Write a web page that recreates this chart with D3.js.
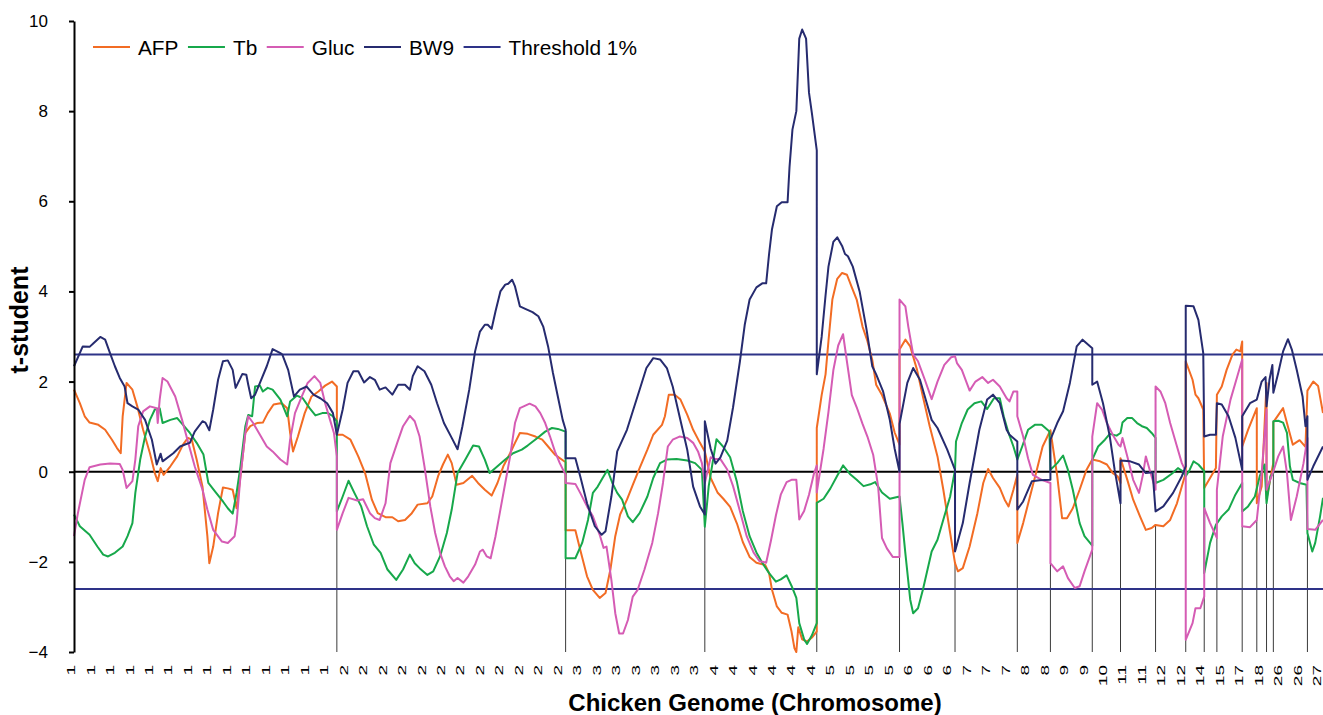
<!DOCTYPE html>
<html><head><meta charset="utf-8">
<script src="https://cdn.jsdelivr.net/npm/d3@7"></script>
<style>body{margin:0;background:#fff} svg{display:block;font-family:"Liberation Sans",Arial,sans-serif}</style>
</head><body><svg id="chart" width="1323" height="715"></svg>
<script>
// Chromosome label shown every 20 marker positions
const tickLabels = ["1","1","1","1","1","1","1","1","1","1","1","1","1","1",
  "2","2","2","2","2","2","2","2","2","2","2","2",
  "3","3","3","3","3","3","3",
  "4","4","4","4","4","4",
  "5","5","5","5",
  "6","6","6",
  "7","7","7",
  "8","8",
  "9","9",
  "10","11","11","12","12","14","15","17","18","26","26","27"];
const labelStep = 20;

// Chromosome boundaries (marker positions)
const boundaries = [270,505,648,763,848,905,969,1003,1046,1075,1111,1142,1161,1174,1200,1215,1225,1232,1267];

const thresholds = [2.6, -2.6];

// [marker position, t-student]
const afp = [[0,1.82],[6,1.52],[11,1.23],[16,1.09],[25,1.04],[32,0.93],[39,0.71],[44,0.53],[48,0.41],[50,1.23],[54,1.97],[60,1.82],[65,1.45],[71,0.93],[78,0.41],[83,-0.03],[86,-0.21],[89,0.08],[92,-0.07],[99,0.12],[106,0.34],[112,0.60],[117,0.75],[121,0.71],[126,0.27],[132,-0.33],[137,-1.43],[139,-2.03],[143,-1.66],[148,-0.92],[153,-0.35],[158,-0.37],[163,-0.40],[167,-0.81],[171,-0.10],[176,0.86],[181,1.01],[188,1.08],[194,1.09],[199,1.30],[205,1.49],[212,1.52],[214,1.51],[219,1.41],[222,0.86],[225,0.45],[230,0.78],[237,1.30],[244,1.67],[251,1.78],[258,1.91],[265,2.00],[270,1.89],
[270,0.82],[276,0.82],[284,0.71],[292,0.34],[299,-0.03],[306,-0.62],[312,-0.92],[320,-1.01],[327,-1.01],[333,-1.10],[340,-1.07],[347,-0.92],[353,-0.73],[363,-0.70],[368,-0.55],[374,-0.10],[379,0.16],[384,0.38],[388,0.19],[393,-0.29],[400,-0.25],[409,-0.09],[415,-0.25],[422,-0.40],[429,-0.53],[435,-0.25],[441,0.12],[448,0.41],[453,0.64],[458,0.86],[466,0.84],[474,0.78],[481,0.71],[487,0.56],[494,0.38],[501,0.27],[505,0.21],
[505,-1.30],[515,-1.30],[520,-1.73],[527,-2.32],[533,-2.62],[540,-2.80],[546,-2.69],[551,-2.17],[556,-1.43],[561,-0.95],[568,-0.62],[574,-0.29],[581,0.08],[589,0.49],[595,0.82],[604,1.04],[607,1.23],[611,1.71],[617,1.71],[623,1.60],[630,1.26],[636,0.93],[643,0.64],[648,0.45],
[654,-0.14],[661,-0.46],[667,-0.60],[674,-0.78],[681,-1.15],[687,-1.56],[694,-1.89],[701,-2.02],[710,-2.07],[714,-2.25],[717,-2.62],[722,-2.99],[727,-3.13],[733,-3.17],[737,-3.54],[740,-3.91],[742,-4.00],[744,-3.45],[748,-3.72],[753,-3.77],[758,-3.68],[763,-3.54],
[763,0.97],[768,1.70],[772,2.16],[775,2.90],[779,3.82],[784,4.28],[789,4.41],[794,4.37],[799,4.09],[804,3.82],[810,3.22],[815,2.90],[820,2.48],[824,1.93],[830,1.70],[838,1.29],[843,0.87],[848,0.60],
[848,2.71],[854,2.93],[859,2.78],[866,2.26],[872,1.67],[879,1.01],[887,0.34],[893,-0.40],[900,-1.36],[905,-2.03],[908,-2.21],[913,-2.14],[920,-1.66],[928,-0.92],[934,-0.25],[939,0.06],[944,-0.14],[951,-0.36],[956,-0.62],[960,-0.77],[965,-0.40],[969,-0.07],
[969,-1.58],[975,-1.14],[982,-0.55],[989,0.04],[995,0.56],[1003,0.92],[1010,-0.10],[1015,-1.03],[1020,-1.03],[1026,-0.81],[1033,-0.40],[1040,0.04],[1046,0.27],[1054,0.23],[1061,0.16],[1067,-0.03],[1072,-0.10],[1075,-0.25],
[1075,0.30],[1082,-0.18],[1088,-0.62],[1095,-0.99],[1101,-1.29],[1107,-1.25],[1111,-1.18],[1119,-1.21],[1126,-1.07],[1133,-0.70],[1139,-0.25],[1142,-0.03],
[1142,2.45],[1149,2.04],[1152,1.71],[1155,1.63],[1160,1.38],[1161,-0.36],[1167,-0.14],[1173,0.08],[1174,1.71],[1179,1.89],[1184,2.26],[1190,2.60],[1194,2.71],[1198,2.67],[1200,2.89],
[1200,0.56],[1206,0.93],[1215,1.41],[1215,-0.70],[1220,-0.33],[1225,1.97],[1225,-0.60],[1232,0.20],[1232,1.10],[1242,1.41],[1247,1.00],[1252,0.60],[1259,0.70],[1265,0.55],[1267,1.80],[1273,2.00],[1278,1.90],[1283,1.30]];

const tb = [[0,-0.95],[6,-1.21],[16,-1.40],[24,-1.66],[30,-1.84],[35,-1.88],[42,-1.80],[50,-1.66],[55,-1.43],[60,-1.14],[63,-0.47],[68,0.27],[73,0.78],[78,1.15],[83,1.38],[88,1.41],[91,1.08],[99,1.15],[106,1.19],[112,1.04],[119,0.86],[126,0.64],[133,0.38],[138,-0.25],[145,-0.44],[153,-0.66],[158,-0.81],[163,-0.93],[167,-0.47],[171,0.12],[176,1.01],[179,1.26],[183,1.23],[186,1.89],[191,1.91],[194,1.78],[199,1.86],[204,1.82],[212,1.60],[219,1.23],[222,1.56],[229,1.69],[235,1.63],[242,1.41],[248,1.25],[255,1.30],[261,1.30],[266,1.23],[270,1.12],
[270,-0.88],[276,-0.55],[282,-0.20],[288,-0.47],[295,-0.77],[301,-1.21],[308,-1.62],[315,-1.80],[322,-2.17],[331,-2.40],[338,-2.17],[345,-1.84],[350,-2.03],[355,-2.14],[363,-2.29],[369,-2.21],[376,-1.88],[383,-1.36],[388,-0.84],[394,-0.03],[402,0.27],[410,0.58],[416,0.56],[422,0.27],[427,-0.03],[435,0.12],[443,0.27],[451,0.41],[460,0.49],[466,0.58],[476,0.75],[484,0.89],[491,0.97],[497,0.95],[505,0.89],
[505,-1.92],[515,-1.92],[522,-1.58],[528,-1.07],[533,-0.47],[538,-0.33],[543,-0.14],[548,0.04],[553,-0.25],[558,-0.47],[563,-0.62],[569,-0.99],[574,-1.12],[581,-0.92],[589,-0.55],[595,-0.14],[602,0.19],[609,0.27],[619,0.28],[630,0.25],[638,0.19],[645,0.04],
[648,-1.22],[652,-0.32],[660,0.72],[667,0.55],[674,0.32],[681,-0.23],[687,-0.87],[694,-1.43],[701,-1.79],[707,-2.02],[714,-2.25],[721,-2.44],[726,-2.39],[732,-2.30],[737,-2.53],[742,-2.80],[745,-3.36],[750,-3.72],[753,-3.82],[758,-3.63],[763,-3.36],
[763,-0.69],[770,-0.60],[777,-0.37],[784,-0.09],[790,0.14],[797,-0.05],[804,-0.18],[811,-0.32],[818,-0.28],[823,-0.23],[830,-0.46],[838,-0.60],[848,-0.55],
[851,-1.15],[854,-1.81],[859,-2.84],[862,-3.14],[867,-3.03],[872,-2.62],[881,-1.77],[887,-1.51],[894,-0.99],[900,-0.55],[905,0.04],
[906,0.67],[912,1.08],[918,1.38],[925,1.52],[932,1.56],[938,1.39],[945,1.63],[951,1.63],[955,1.23],[960,0.86],[965,0.56],[969,0.27],[974,0.56],[980,0.93],[987,1.04],[994,1.04],[1002,0.89],
[1003,0.04],[1010,0.19],[1016,0.36],[1021,0.04],[1026,-0.40],[1033,-1.14],[1038,-1.43],[1046,-1.64],
[1046,0.27],[1052,0.56],[1059,0.71],[1064,0.84],[1071,0.80],[1075,0.86],[1077,1.09],[1082,1.19],[1087,1.19],[1092,1.08],[1097,1.01],[1102,0.97],[1107,0.86],[1111,0.75],
[1111,-0.25],[1119,-0.18],[1128,-0.04],[1134,0.08],[1139,0.01],[1142,-0.10],[1146,0.04],[1150,0.23],[1155,0.16],[1161,0.01],
[1161,-2.25],[1167,-1.58],[1173,-1.18],[1179,-0.99],[1186,-0.84],[1193,-0.51],[1200,-0.25],
[1200,-0.88],[1206,-0.77],[1213,-0.55],[1218,-0.10],[1223,0.16],[1225,-0.70],[1229,-0.10],[1232,-0.03],
[1232,1.12],[1237,1.13],[1242,1.09],[1246,0.86],[1249,0.12],[1252,-0.18],[1259,-0.25],[1266,-0.29],
[1267,-1.36],[1272,-1.77],[1275,-1.58],[1280,-0.99],[1283,-0.58]];

const gluc = [[0,-1.43],[4,-0.92],[11,-0.18],[16,0.10],[27,0.16],[37,0.18],[47,0.17],[50,0.04],[54,-0.36],[60,-0.21],[63,0.27],[66,1.01],[71,1.34],[78,1.45],[85,1.41],[86,1.08],[88,1.60],[91,2.08],[96,2.00],[104,1.67],[111,1.15],[117,0.67],[124,0.12],[132,-0.40],[137,-0.84],[143,-1.29],[152,-1.55],[158,-1.58],[165,-1.43],[167,-1.14],[171,-0.10],[176,0.86],[179,1.23],[184,1.08],[191,0.82],[198,0.56],[204,0.45],[212,0.27],[219,0.16],[222,0.71],[227,1.30],[234,1.67],[240,1.97],[247,2.12],[253,1.97],[258,1.52],[263,1.15],[267,0.86],[270,0.34],
[270,-1.29],[276,-0.92],[282,-0.58],[291,-0.64],[297,-0.61],[304,-0.92],[309,-1.03],[314,-1.07],[320,-0.70],[325,0.19],[332,0.64],[338,1.01],[345,1.24],[350,1.12],[355,0.78],[360,0.12],[366,-0.77],[371,-1.36],[376,-1.80],[381,-2.10],[386,-2.32],[390,-2.43],[394,-2.36],[400,-2.46],[405,-2.32],[412,-2.06],[417,-1.77],[420,-1.73],[424,-1.88],[428,-1.92],[433,-1.43],[438,-0.84],[443,-0.25],[448,0.34],[453,1.08],[458,1.41],[463,1.46],[468,1.51],[474,1.45],[479,1.30],[484,1.08],[489,0.78],[494,0.45],[499,0.19],[505,-0.07],
[505,-0.25],[515,-0.27],[520,-0.47],[527,-0.77],[533,-0.99],[540,-1.40],[544,-1.69],[547,-1.66],[552,-2.40],[556,-3.14],[560,-3.59],[564,-3.59],[569,-3.29],[574,-2.77],[579,-2.62],[586,-2.17],[594,-1.58],[600,-0.92],[605,-0.25],[610,0.56],[615,0.71],[622,0.78],[630,0.75],[636,0.64],[641,0.45],[645,0.19],[648,-0.25],
[654,0.32],[659,0.28],[664,0.28],[671,0.05],[677,-0.32],[684,-0.87],[691,-1.43],[698,-1.79],[704,-1.98],[711,-2.02],[716,-1.52],[721,-0.97],[726,-0.51],[732,-0.23],[737,-0.18],[742,-0.18],[745,-1.06],[750,-0.87],[755,-0.51],[760,-0.05],[763,0.14],
[763,-0.46],[770,0.51],[775,1.33],[780,2.25],[785,2.80],[790,3.05],[794,2.44],[799,1.70],[804,1.43],[810,1.06],[815,0.78],[821,0.37],[826,-0.32],[830,-1.47],[835,-1.70],[841,-1.89],[848,-1.89],
[848,3.82],[854,3.67],[857,3.22],[862,2.60],[867,2.45],[874,2.04],[881,1.61],[887,2.00],[894,2.37],[901,2.54],[905,2.56],[907,2.41],[912,2.26],[920,1.80],[926,2.00],[933,2.10],[939,1.97],[944,2.04],[951,1.89],[958,1.63],[961,1.56],[965,1.78],[969,1.78],
[969,1.23],[975,0.78],[980,0.30],[985,-0.07],[994,-0.18],[1003,-0.25],
[1003,-2.03],[1010,-2.21],[1016,-2.10],[1021,-2.36],[1028,-2.58],[1033,-2.54],[1038,-2.21],[1046,-1.73],
[1046,0.78],[1051,1.52],[1056,1.38],[1061,1.08],[1067,0.82],[1073,0.60],[1075,0.56],[1077,0.75],[1082,0.34],[1088,-0.18],[1094,-0.47],[1098,-0.07],[1101,0.34],[1105,0.04],[1111,-0.40],
[1111,1.89],[1116,1.78],[1121,1.52],[1126,1.08],[1133,0.56],[1138,0.19],[1142,0.01],
[1142,-3.73],[1149,-3.36],[1152,-3.03],[1157,-3.03],[1161,-2.77],
[1161,-0.81],[1167,-1.14],[1174,-1.47],[1174,-0.40],[1180,0.78],[1188,1.60],[1195,2.12],[1200,2.49],
[1200,-1.21],[1208,-1.23],[1215,-1.07],[1220,-0.03],[1225,1.38],[1225,-0.40],[1232,0.01],[1237,0.34],[1242,0.56],[1246,-0.03],[1250,-1.07],[1256,-0.55],[1263,0.19],[1267,0.75],
[1267,-1.27],[1275,-1.29],[1283,-1.07]];

const bw9 = [[0,2.34],[9,2.78],[16,2.77],[20,2.85],[27,2.99],[32,2.93],[37,2.63],[42,2.34],[47,2.08],[52,1.89],[55,1.52],[60,1.45],[66,1.38],[73,1.15],[80,0.71],[85,0.16],[89,0.40],[91,0.23],[102,0.41],[109,0.56],[116,0.62],[119,0.64],[124,0.89],[132,1.12],[135,1.09],[139,0.92],[143,1.38],[148,2.04],[153,2.45],[158,2.47],[163,2.26],[166,1.86],[168,1.95],[173,2.17],[177,2.15],[179,1.93],[182,1.63],[186,1.71],[191,1.97],[198,2.34],[204,2.72],[212,2.63],[214,2.60],[220,2.26],[226,1.67],[232,1.82],[239,1.89],[246,1.71],[253,1.63],[260,1.52],[266,1.30],[270,0.82],
[276,1.38],[281,1.97],[287,2.23],[292,2.23],[298,1.98],[304,2.10],[309,2.04],[314,1.82],[320,1.87],[327,1.71],[333,1.93],[340,1.93],[345,1.82],[348,2.12],[353,2.34],[360,2.23],[367,1.93],[373,1.52],[380,1.08],[388,0.75],[394,0.50],[399,1.01],[406,1.82],[412,2.67],[417,3.11],[422,3.26],[425,3.26],[429,3.17],[433,3.56],[438,4.00],[443,4.15],[446,4.17],[450,4.26],[453,4.11],[458,3.67],[463,3.62],[471,3.54],[477,3.45],[482,3.22],[487,2.78],[492,2.19],[497,1.67],[502,1.15],[505,0.93],
[505,0.30],[515,0.30],[520,-0.10],[527,-0.70],[535,-1.21],[542,-1.40],[546,-1.32],[552,-0.55],[558,0.45],[568,0.93],[574,1.34],[581,1.82],[588,2.30],[595,2.52],[602,2.49],[609,2.30],[615,1.89],[622,1.23],[630,0.48],[636,-0.33],[643,-0.77],[648,-0.95],
[648,1.12],[654,0.51],[659,0.18],[664,0.32],[671,0.69],[677,1.43],[684,2.44],[689,3.26],[694,3.82],[701,4.09],[707,4.18],[711,4.18],[714,4.83],[717,5.38],[722,5.89],[727,5.98],[733,5.98],[735,6.76],[738,7.59],[742,8.00],[745,9.61],[748,9.81],[752,9.61],[755,8.41],[758,7.95],[763,7.13],
[763,2.16],[768,2.99],[772,3.91],[775,4.55],[780,5.10],[784,5.20],[789,5.01],[792,4.83],[795,4.78],[800,4.55],[807,4.00],[814,3.17],[820,2.34],[824,2.16],[831,1.79],[838,1.15],[843,0.51],[848,0.00],
[848,1.06],[856,1.97],[862,2.30],[869,2.04],[876,1.52],[881,1.15],[887,0.97],[897,0.49],[905,0.04],
[905,-1.77],[913,-1.14],[920,-0.25],[930,0.93],[938,1.60],[944,1.71],[951,1.52],[958,0.93],[961,0.82],[969,0.67],
[969,-0.84],[975,-0.66],[984,-0.21],[992,-0.19],[1003,-0.18],
[1003,0.71],[1010,1.08],[1016,1.34],[1023,1.97],[1030,2.78],[1036,2.93],[1046,2.74],
[1046,1.93],[1051,2.00],[1057,1.52],[1064,0.78],[1069,0.04],[1075,-0.70],
[1075,0.25],[1085,0.23],[1094,0.16],[1101,-0.03],[1108,-0.01],[1111,-0.88],[1119,-0.77],[1129,-0.47],[1138,-0.10],[1142,0.12],
[1142,3.68],[1150,3.67],[1155,3.37],[1160,2.63],[1161,0.78],[1167,0.82],[1173,0.82],[1174,1.52],[1179,1.49],[1186,1.23],[1193,0.75],[1200,0.04],
[1200,1.23],[1208,1.52],[1215,1.60],[1220,2.00],[1224,2.10],[1225,1.45],[1228,2.04],[1231,2.37],[1232,1.75],[1237,2.19],[1242,2.67],[1247,2.94],[1251,2.71],[1256,2.26],[1262,1.67],[1265,1.01],[1267,1.23],
[1267,-0.18],[1273,0.12],[1283,0.56]];

const seriesNames = ["AFP","Tb","Gluc","BW9"];
const seriesData = [afp, tb, gluc, bw9];
const seriesColors = ["#F26C24","#17A84B","#D55CB4","#262B6F"];
const thresholdColor = "#2E3388";
const legendNames = ["AFP","Tb","Gluc","BW9","Threshold 1%"];
const legendColors = ["#F26C24","#17A84B","#D55CB4","#262B6F","#2E3388"];

const svg = d3.select("#chart");
const xMax = 1283;
const x = d3.scaleLinear().domain([0, xMax]).range([74, 1323]);
const y = d3.scaleLinear().domain([-4, 10]).range([652, 21]);

// chromosome boundary drop lines: from -4 up to the lowest series value at the boundary
const allPts = seriesData.flat();
boundaries.forEach(b => {
  const vals = allPts.filter(p => p[0] === b).map(p => p[1]);
  const top = vals.length ? d3.min(vals) : 0;
  svg.append("line")
    .attr("x1", x(b)).attr("x2", x(b))
    .attr("y1", y(-4)).attr("y2", y(top))
    .attr("stroke", "#3a3a3a").attr("stroke-width", 1);
});

// zero line (category axis)
svg.append("line").attr("x1", x(0)).attr("x2", x(xMax))
  .attr("y1", y(0)).attr("y2", y(0)).attr("stroke", "#000").attr("stroke-width", 2);

// threshold lines
thresholds.forEach(t => {
  svg.append("line").attr("x1", x(0)).attr("x2", x(xMax))
    .attr("y1", y(t)).attr("y2", y(t)).attr("stroke", thresholdColor).attr("stroke-width", 2);
});

const line = d3.line().x(d => x(d[0])).y(d => y(d[1]));
seriesData.forEach((data, i) => {
  svg.append("path").datum(data)
    .attr("d", line).attr("fill", "none")
    .attr("stroke", seriesColors[i]).attr("stroke-width", 2)
    .attr("stroke-linejoin", "round");
});

// y axis
const yAxis = d3.axisLeft(y).tickValues([-4,-2,0,2,4,6,8,10]).tickSize(5).tickSizeOuter(0).tickPadding(21);
const gy = svg.append("g").attr("transform", `translate(${x(0)},0)`).call(yAxis);
gy.select(".domain").attr("stroke", "#000").attr("stroke-width", 2);
gy.selectAll(".tick line").attr("stroke", "#000").attr("stroke-width", 2);
gy.selectAll(".tick text").attr("font-size", 17).attr("fill", "#000")
  .attr("font-family", "Liberation Sans, Arial, sans-serif");

// x tick labels (condensed, rotated)
const gx = svg.append("g");
tickLabels.forEach((lab, k) => {
  const px = x(k * labelStep) - 3;
  gx.append("text").text(lab)
    .attr("transform", `translate(${px},665) rotate(-90) scale(1,0.62)`)
    .attr("text-anchor", "end").attr("dominant-baseline", "central")
    .attr("font-size", 19).attr("fill", "#000");
});

// axis titles
svg.append("text").text("Chicken Genome (Chromosome)")
  .attr("x", 755).attr("y", 711).attr("text-anchor", "middle")
  .attr("font-size", 24).attr("font-weight", "bold");
svg.append("text").text("t-student")
  .attr("transform", "translate(28,320) rotate(-90)").attr("text-anchor", "middle")
  .attr("font-size", 25).attr("font-weight", "bold");

// legend
const lg = svg.append("g");
let lx = 93;
legendNames.forEach((n, i) => {
  lg.append("line").attr("x1", lx).attr("x2", lx + 37).attr("y1", 47).attr("y2", 47)
    .attr("stroke", legendColors[i]).attr("stroke-width", 2);
  const t = lg.append("text").text(n).attr("x", lx + 45).attr("y", 47)
    .attr("dominant-baseline", "central").attr("font-size", 20.8).attr("fill", "#000");
  lx += 45 + t.node().getComputedTextLength() + 9.5;
});
</script></body></html>
